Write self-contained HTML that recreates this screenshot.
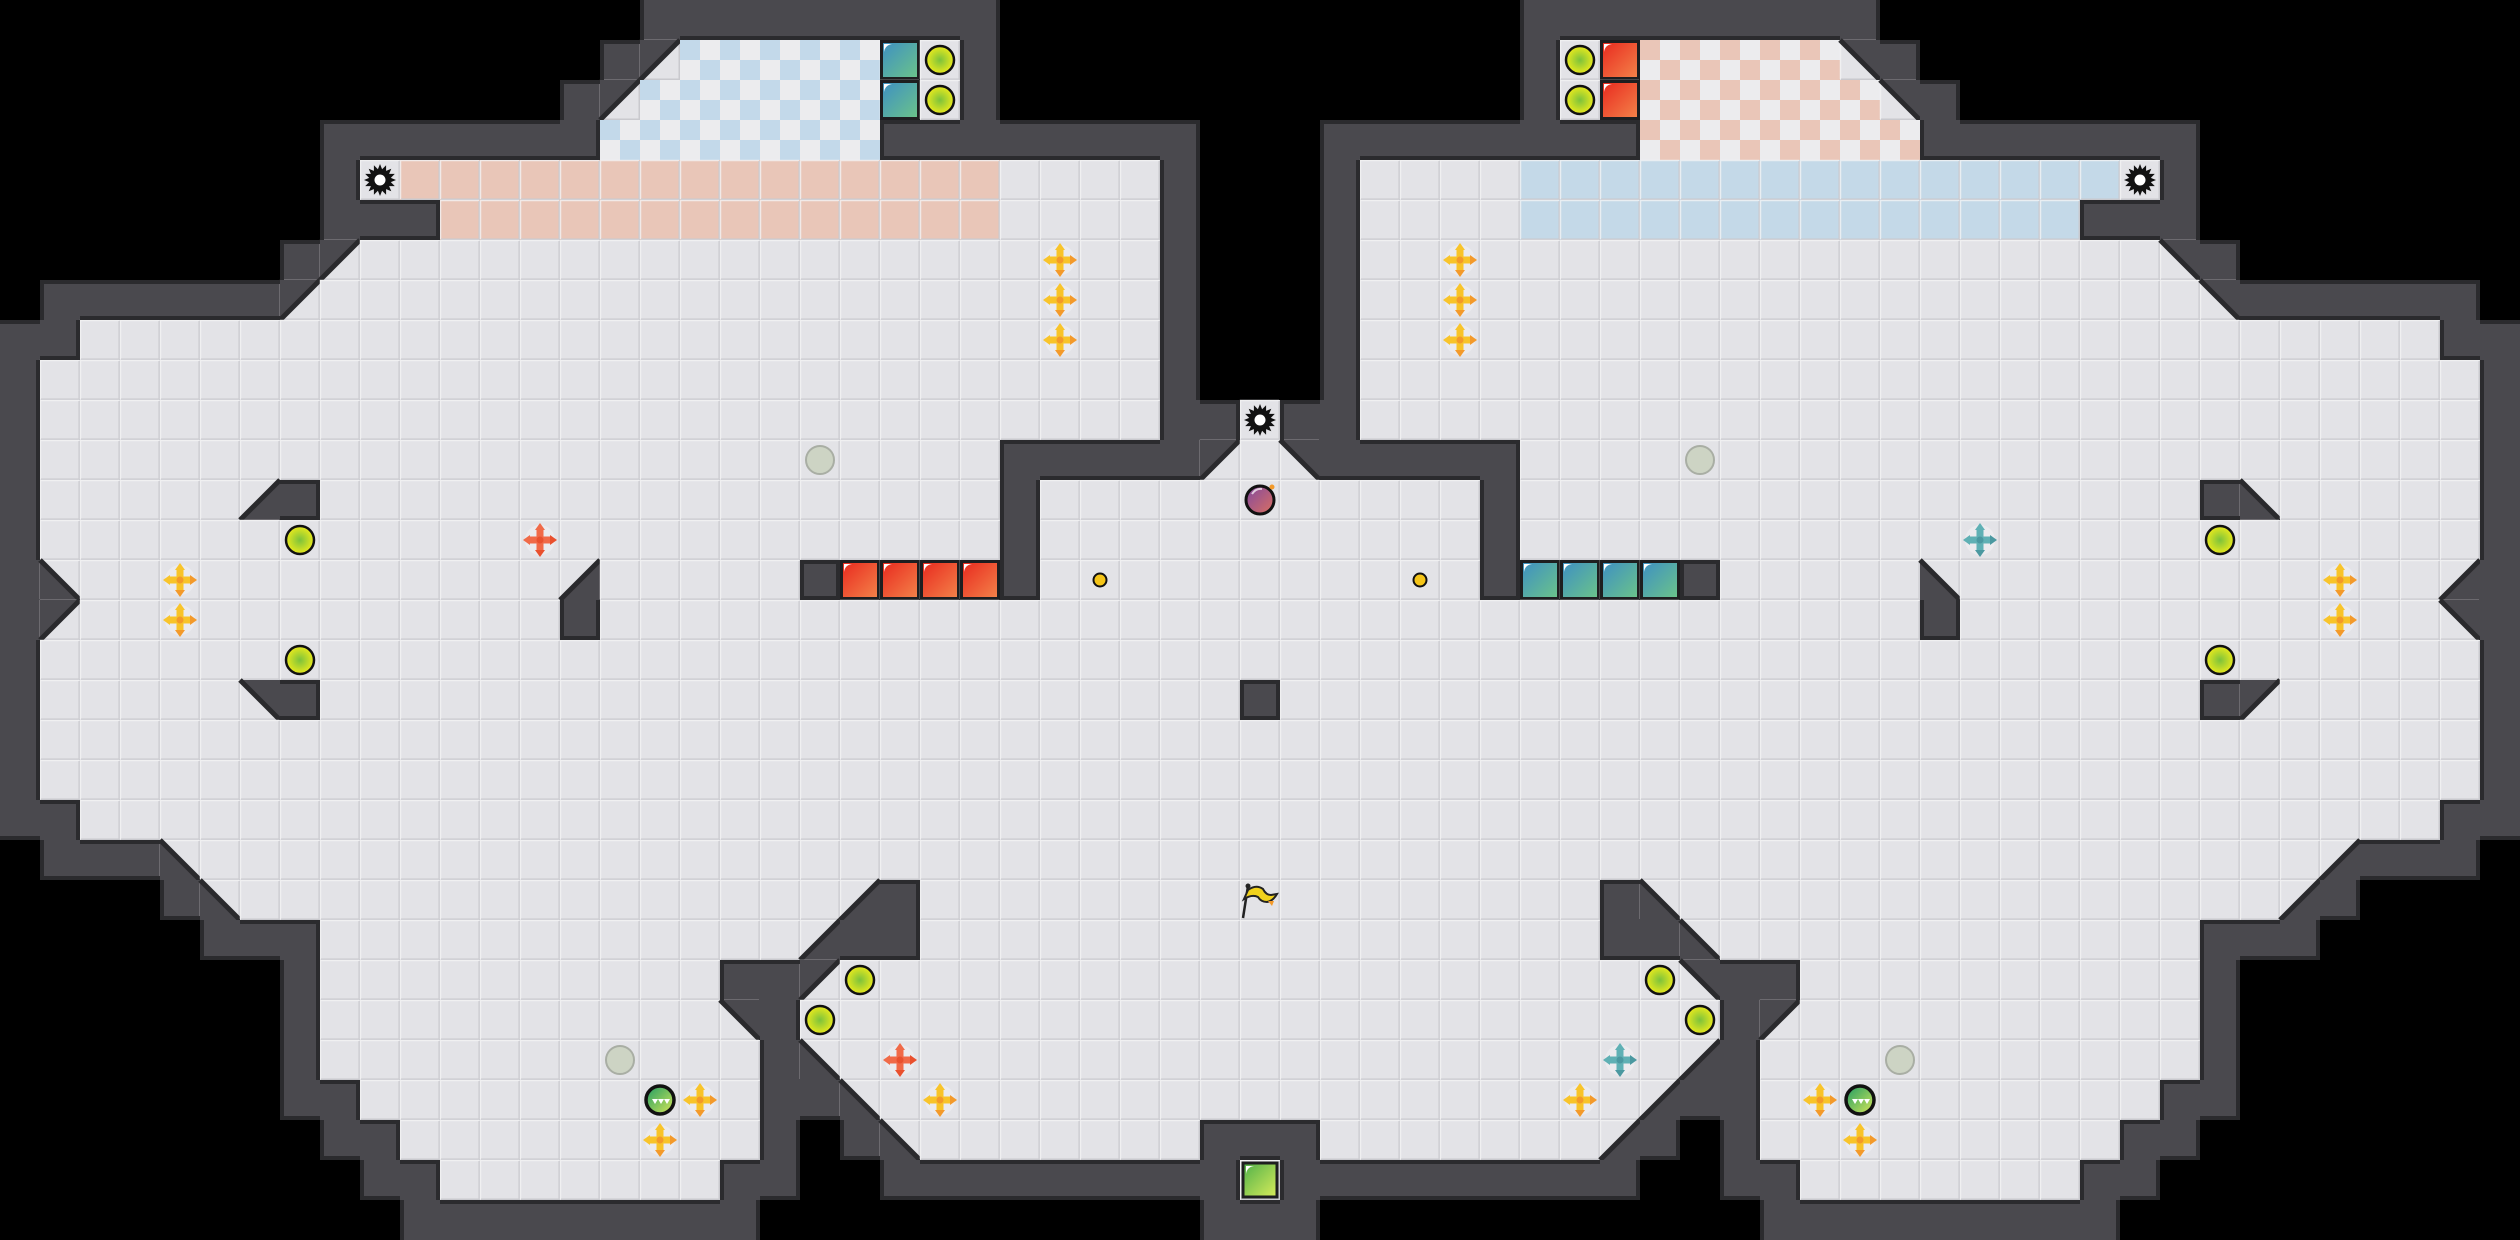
<!DOCTYPE html>
<html><head><meta charset="utf-8"><style>
html,body{margin:0;padding:0;background:#000;width:2520px;height:1240px;overflow:hidden}
svg{display:block}
</style></head><body>
<svg id="m" xmlns="http://www.w3.org/2000/svg" width="2520" height="1240" viewBox="0 0 2520 1240">
<defs>
<linearGradient id="gR" x1="0" y1="0" x2="1" y2="1"><stop offset="0" stop-color="#e8281e"/><stop offset="1" stop-color="#f4844a"/></linearGradient>
<linearGradient id="gB" x1="0" y1="0" x2="1" y2="1"><stop offset="0" stop-color="#3d8fc4"/><stop offset="1" stop-color="#6cc488"/></linearGradient>
<linearGradient id="gG" x1="0" y1="0" x2="1" y2="1"><stop offset="0" stop-color="#4fb04a"/><stop offset="1" stop-color="#d8ec5a"/></linearGradient>
<radialGradient id="gY"><stop offset="0" stop-color="#7cc23c"/><stop offset="1" stop-color="#eaea1c"/></radialGradient>
<linearGradient id="gP" x1="0" y1="0" x2="1" y2="1"><stop offset="0" stop-color="#8048a0"/><stop offset="1" stop-color="#dc7060"/></linearGradient>
<linearGradient id="gN" x1="0" y1="0" x2="1" y2="1"><stop offset="0" stop-color="#1e9c64"/><stop offset="1" stop-color="#d8e858"/></linearGradient>
</defs>
</svg>
<script>
(function(){
var T=40, NS="http://www.w3.org/2000/svg", svg=document.getElementById('m');
function R(parts){var s='';parts.forEach(function(p){for(var i=0;i<p[0];i++)s+=p[1];});return s;}
var L=[
R([[16,' '],[9,'#'],[7,' ']]),
R([[15,' '],[1,'#'],[1,'a'],[5,'k'],[1,'B'],[1,'.'],[1,'#'],[7,' ']]),
R([[14,' '],[1,'#'],[1,'a'],[6,'k'],[1,'B'],[1,'.'],[1,'#'],[7,' ']]),
R([[8,' '],[7,'#'],[7,'k'],[8,'#'],[2,' ']]),
R([[8,' '],[1,'#'],[1,'.'],[15,'p'],[4,'.'],[1,'#'],[2,' ']]),
R([[8,' '],[3,'#'],[14,'p'],[4,'.'],[1,'#'],[2,' ']]),
R([[7,' '],[1,'#'],[1,'a'],[20,'.'],[1,'#'],[2,' ']]),
R([[1,' '],[6,'#'],[1,'a'],[21,'.'],[1,'#'],[2,' ']]),
R([[2,'#'],[27,'.'],[1,'#'],[2,' ']]),
R([[1,'#'],[28,'.'],[1,'#'],[2,' ']]),
R([[1,'#'],[28,'.'],[2,'#'],[1,'.']]),
R([[1,'#'],[24,'.'],[5,'#'],[1,'a'],[1,'.']]),
R([[1,'#'],[5,'.'],[1,'d'],[1,'#'],[17,'.'],[1,'#'],[6,'.']]),
R([[1,'#'],[24,'.'],[1,'#'],[6,'.']]),
R([[1,'#'],[1,'c'],[12,'.'],[1,'d'],[5,'.'],[1,'#'],[4,'R'],[1,'#'],[6,'.']]),
R([[1,'#'],[1,'a'],[12,'.'],[1,'#'],[17,'.']]),
R([[1,'#'],[31,'.']]),
R([[1,'#'],[5,'.'],[1,'b'],[1,'#'],[23,'.'],[1,'#']]),
R([[1,'#'],[31,'.']]),
R([[1,'#'],[31,'.']]),
R([[2,'#'],[30,'.']]),
R([[1,' '],[3,'#'],[1,'c'],[27,'.']]),
R([[4,' '],[1,'#'],[1,'c'],[15,'.'],[1,'d'],[1,'#'],[9,'.']]),
R([[5,' '],[3,'#'],[12,'.'],[1,'d'],[2,'#'],[9,'.']]),
R([[7,' '],[1,'#'],[10,'.'],[2,'#'],[1,'a'],[11,'.']]),
R([[7,' '],[1,'#'],[10,'.'],[1,'b'],[1,'#'],[12,'.']]),
R([[7,' '],[1,'#'],[11,'.'],[1,'#'],[1,'c'],[11,'.']]),
R([[7,' '],[2,'#'],[10,'.'],[2,'#'],[1,'c'],[10,'.']]),
R([[8,' '],[2,'#'],[9,'.'],[1,'#'],[1,' '],[1,'#'],[1,'c'],[7,'.'],[2,'#']]),
R([[9,' '],[2,'#'],[7,'.'],[2,'#'],[2,' '],[9,'#'],[1,'G']]),
R([[10,' '],[9,'#'],[11,' '],[2,'#']])
];
var MX={a:'b',b:'a',c:'d',d:'c',k:'r',B:'R',R:'B',p:'l'};
var G=L.map(function(s){var r='';for(var c=30;c>=0;c--){var ch=s[c];r+=(MX[ch]||ch);}return s+r;});
var out=[];
function cell(r,c){if(r<0||r>=G.length||c<0||c>=63)return '?';return G[r][c];}
var floorC={'.':'#e3e3e7','p':'#e9c6b8','l':'#c4d9e8','a':'#e3e3e7','b':'#e3e3e7','c':'#e3e3e7','d':'#e3e3e7','G':'#e3e3e7','B':'#e3e3e7','R':'#e3e3e7'};
for(var r=0;r<31;r++)for(var c=0;c<63;c++){
 var ch=G[r][c],x=c*T,y=r*T;
 if(ch===' ')continue;
 if(ch==='#'){out.push('<rect x="'+x+'" y="'+y+'" width="40" height="40" fill="#4a494e"/>');continue;}
 if(ch==='k'||ch==='r'){
  var col=ch==='k'?'#c3d9ea':'#eac6b8';
  out.push('<rect x="'+x+'" y="'+y+'" width="40" height="40" fill="#ececee"/>');
  out.push('<rect x="'+x+'" y="'+y+'" width="20" height="20" fill="'+col+'"/><rect x="'+(x+20)+'" y="'+(y+20)+'" width="20" height="20" fill="'+col+'"/>');
  continue;
 }
 var fc=floorC[ch]||'#e3e3e7';
 out.push('<rect x="'+x+'" y="'+y+'" width="40" height="40" fill="'+fc+'"/>');
 out.push('<path d="M'+(x+0.5)+' '+(y+39)+'V'+(y+0.5)+'H'+(x+39)+'" stroke="#f2f2f4" stroke-width="1.5" fill="none" opacity="0.8"/>');
 out.push('<path d="M'+(x+1)+' '+(y+39.25)+'H'+(x+39.25)+'V'+(y+1)+'" stroke="#c9c9ce" stroke-width="1.5" fill="none"/>');
 var tri=null;
 if(ch==='a')tri=[x,y,x+40,y,x,y+40];
 if(ch==='b')tri=[x,y,x+40,y,x+40,y+40];
 if(ch==='c')tri=[x,y,x,y+40,x+40,y+40];
 if(ch==='d')tri=[x+40,y,x+40,y+40,x,y+40];
 if(tri){
  out.push('<polygon points="'+tri.join(',')+'" fill="#4a494e"/>');
  var h;
  if(ch==='a'||ch==='d')h=[x+40,y,x,y+40];else h=[x,y,x+40,y+40];
  out.push('<line x1="'+h[0]+'" y1="'+h[1]+'" x2="'+h[2]+'" y2="'+h[3]+'" stroke="#2a2a2d" stroke-width="5"/>');
 }
 if(ch==='B'||ch==='R'){
  out.push('<rect x="'+(x+1.5)+'" y="'+(y+1.5)+'" width="37" height="37" fill="url(#g'+ch+')" stroke="#1e1e20" stroke-width="3"/>');
  out.push('<path d="M'+(x+4)+' '+(y+12)+'V'+(y+4)+'H'+(x+12)+'Q'+(x+5)+' '+(y+5)+' '+(x+4)+' '+(y+12)+'Z" fill="#fff"/>');
 }
 if(ch==='G'){
  out.push('<rect x="'+(x+3)+'" y="'+(y+3)+'" width="34" height="34" fill="url(#gG)" stroke="#1e1e20" stroke-width="3"/>');
  out.push('<path d="M'+(x+6)+' '+(y+14)+'V'+(y+6)+'H'+(x+14)+'Q'+(x+7)+' '+(y+7)+' '+(x+6)+' '+(y+14)+'Z" fill="#fff"/>');
 }
}
// wall edges
for(var r=0;r<31;r++)for(var c=0;c<63;c++){
 if(G[r][c]!=='#')continue;
 var x=c*T,y=r*T,nb=[[r-1,c,'t'],[r+1,c,'b'],[r,c-1,'l'],[r,c+1,'r']];
 nb.forEach(function(n){
  var v=cell(n[0],n[1]); if(v==='#'||v==='?')return;
  if(v==='a'||v==='b'||v==='c'||v==='d'){
   // check whether diagonal's wall touches this edge fully
   var touch={t:{c:1,d:1},b:{a:1,b:1},l:{b:1,d:1},r:{a:1,c:1}}[n[2]];
   if(touch[v])return;
  }
  var s;
  if(n[2]==='t')s=[x,y+2,x+40,y+2];
  if(n[2]==='b')s=[x,y+38,x+40,y+38];
  if(n[2]==='l')s=[x+2,y,x+2,y+40];
  if(n[2]==='r')s=[x+38,y,x+38,y+40];
  out.push('<line x1="'+s[0]+'" y1="'+s[1]+'" x2="'+s[2]+'" y2="'+s[3]+'" stroke="#2b2b2e" stroke-width="4"/>');
 });
}
function P(c,r){return [c*T+20,r*T+20];}
function both(list,fn){list.forEach(function(p){fn(p[0],p[1],false);if(p[0]!==31)fn(62-p[0],p[1],true);});}
function gear(c,r){var p=P(c,r),pts=[];for(var i=0;i<32;i++){var a=i*Math.PI/16,rad=(i%2?11:16);pts.push((p[0]+rad*Math.cos(a)).toFixed(1)+','+(p[1]+rad*Math.sin(a)).toFixed(1));}
 out.push('<polygon points="'+pts.join(' ')+'" fill="#111"/><circle cx="'+p[0]+'" cy="'+p[1]+'" r="5.5" fill="#fff"/>');}
both([[9,4],[31,10]],gear);
both([[23,1],[23,2],[7,13],[7,16],[21,24],[20,25]],function(c,r){var p=P(c,r);out.push('<circle cx="'+p[0]+'" cy="'+p[1]+'" r="14" fill="url(#gY)" stroke="#111" stroke-width="2.5"/>');});
both([[20,11],[15,26]],function(c,r){var p=P(c,r);out.push('<circle cx="'+p[0]+'" cy="'+p[1]+'" r="14" fill="#cdd4c4" stroke="#a9aea4" stroke-width="2"/>');});
function boost(col,col2){return function(c,r){var p=P(c,r),x=p[0],y=p[1];
 out.push('<circle cx="'+x+'" cy="'+y+'" r="15" fill="#ececf0" opacity="0.8"/>');
 out.push('<rect x="'+(x-13)+'" y="'+(y-3.5)+'" width="26" height="7" rx="3" fill="'+col+'"/><rect x="'+(x-3.5)+'" y="'+(y-13)+'" width="7" height="26" rx="3" fill="'+col+'"/>');
 out.push('<polygon points="'+x+','+(y-17)+' '+(x-5)+','+(y-10)+' '+(x+5)+','+(y-10)+'" fill="'+col+'"/><polygon points="'+x+','+(y+17)+' '+(x-5)+','+(y+10)+' '+(x+5)+','+(y+10)+'" fill="'+col2+'"/>');
 out.push('<polygon points="'+(x-17)+','+y+' '+(x-10)+','+(y-5)+' '+(x-10)+','+(y+5)+'" fill="'+col+'"/><polygon points="'+(x+17)+','+y+' '+(x+10)+','+(y-5)+' '+(x+10)+','+(y+5)+'" fill="'+col2+'"/>');
 out.push('<circle cx="'+x+'" cy="'+y+'" r="3.5" fill="'+col2+'"/>');};}
both([[26,6],[26,7],[26,8],[4,14],[4,15],[17,27],[16,28],[23,27]],boost('#f8c42a','#f39a2a'));
[[13,13],[22,26]].forEach(function(p){boost('#f06a48','#e9502e')(p[0],p[1]);boost('#5fb0b4','#4a98a0')(62-p[0],p[1]);});
both([[16,27]],function(c,r){var p=P(c,r),x=p[0],y=p[1];out.push('<circle cx="'+x+'" cy="'+y+'" r="14" fill="url(#gN)" stroke="#111" stroke-width="3.5"/>');
 out.push('<path d="M'+(x-8)+' '+(y-1)+'l3 5 3-5zM'+(x-2)+' '+(y-1)+'l3 5 3-5zM'+(x+4)+' '+(y-1)+'l3 5 3-5z" fill="#fff"/>');});
both([[27,14]],function(c,r){var p=P(c,r);out.push('<circle cx="'+p[0]+'" cy="'+p[1]+'" r="6.5" fill="#f5c518" stroke="#111" stroke-width="2"/>');});
var pp=P(31,12);out.push('<circle cx="'+pp[0]+'" cy="'+pp[1]+'" r="14" fill="url(#gP)" stroke="#111" stroke-width="3"/><circle cx="'+(pp[0]+12)+'" cy="'+(pp[1]-13)+'" r="2.5" fill="#f39a2a"/><path d="M'+(pp[0]-8)+' '+(pp[1]-6)+'q4 -6 10 -5" stroke="#fff" stroke-width="2" fill="none" opacity="0.7"/>');
var fp=P(31,22),fx=fp[0],fy=fp[1];
out.push('<line x1="'+(fx-17)+'" y1="'+(fy+18)+'" x2="'+(fx-12)+'" y2="'+(fy-14)+'" stroke="#222" stroke-width="2.5"/><circle cx="'+(fx-12)+'" cy="'+(fy-14)+'" r="2.5" fill="#222"/>');
out.push('<path d="M'+(fx-12)+' '+(fy-10)+'q8 -6 15 -1q3 6 8 6l6 -1q-4 7 -10 8q-6 0 -9 -5q-6 -3 -14 2z" fill="#f1d21c" stroke="#222" stroke-width="2"/><path d="M'+(fx+8)+' '+(fy+1)+'l6 0 -2 5z" fill="#f39a2a"/>');
svg.insertAdjacentHTML('beforeend',out.join(''));
})();
</script>
</body></html>
